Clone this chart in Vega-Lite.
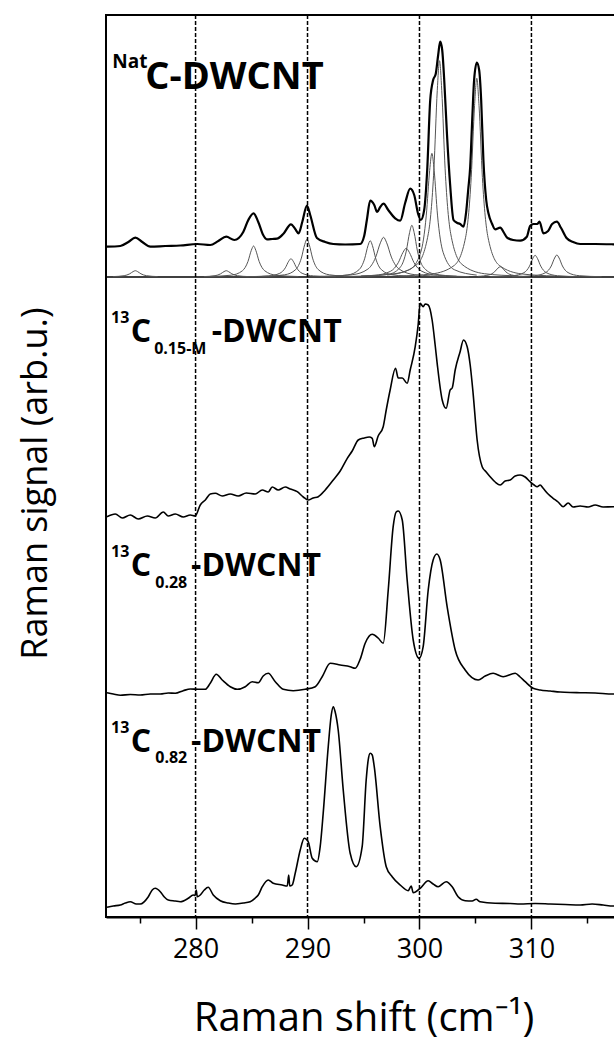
{
"$schema": "https://vega.github.io/schema/vega-lite/v6.json",
"width": 515,
"height": 902,
"autosize": {"type": "none"},
"padding": {"left": 106, "top": 15, "right": 0, "bottom": 124},
"config": {"view": {"stroke": "black", "strokeWidth": 2}, "font": "Open Sans"},
"datasets": {
"spectra": [
{"s":"nat","x":272.09,"y":67.03},{"s":"nat","x":273.28,"y":67.1},{"s":"nat","x":274.0,"y":67.5},{"s":"nat","x":274.62,"y":67.93},{"s":"nat","x":275.24,"y":67.5},{"s":"nat","x":275.96,"y":67.03},{"s":"nat","x":277.3,"y":67.1},{"s":"nat","x":278.63,"y":67.15},{"s":"nat","x":280.15,"y":67.3},{"s":"nat","x":281.31,"y":67.2},{"s":"nat","x":282.03,"y":67.6},{"s":"nat","x":282.74,"y":68.03},{"s":"nat","x":283.46,"y":67.7},{"s":"nat","x":284.26,"y":68.5},{"s":"nat","x":284.71,"y":69.7},{"s":"nat","x":285.18,"y":70.37},{"s":"nat","x":285.6,"y":69.5},{"s":"nat","x":286.04,"y":68.2},{"s":"nat","x":286.37,"y":67.77},{"s":"nat","x":286.85,"y":67.8},{"s":"nat","x":287.27,"y":67.83},{"s":"nat","x":287.83,"y":68.3},{"s":"nat","x":288.52,"y":69.27},{"s":"nat","x":288.9,"y":68.8},{"s":"nat","x":289.2,"y":68.37},{"s":"nat","x":289.53,"y":69.5},{"s":"nat","x":289.95,"y":71.13},{"s":"nat","x":290.24,"y":70.2},{"s":"nat","x":290.84,"y":67.9},{"s":"nat","x":291.58,"y":67.5},{"s":"nat","x":292.3,"y":67.3},{"s":"nat","x":293.37,"y":67.25},{"s":"nat","x":294.7,"y":67.3},{"s":"nat","x":295.06,"y":68.1},{"s":"nat","x":295.3,"y":69.7},{"s":"nat","x":295.6,"y":71.63},{"s":"nat","x":295.96,"y":71.2},{"s":"nat","x":296.22,"y":70.5},{"s":"nat","x":296.49,"y":71.0},{"s":"nat","x":296.79,"y":71.33},{"s":"nat","x":297.21,"y":70.7},{"s":"nat","x":297.83,"y":69.87},{"s":"nat","x":298.28,"y":69.63},{"s":"nat","x":298.72,"y":71.4},{"s":"nat","x":299.17,"y":72.83},{"s":"nat","x":299.53,"y":72.2},{"s":"nat","x":299.88,"y":70.3},{"s":"nat","x":300.12,"y":69.7},{"s":"nat","x":300.42,"y":70.7},{"s":"nat","x":300.69,"y":74.7},{"s":"nat","x":300.96,"y":81.7},{"s":"nat","x":301.22,"y":83.7},{"s":"nat","x":301.45,"y":84.3},{"s":"nat","x":301.67,"y":86.2},{"s":"nat","x":301.85,"y":87.53},{"s":"nat","x":302.03,"y":86.7},{"s":"nat","x":302.21,"y":83.7},{"s":"nat","x":302.45,"y":78.4},{"s":"nat","x":302.74,"y":73.2},{"s":"nat","x":303.04,"y":69.7},{"s":"nat","x":303.34,"y":69.43},{"s":"nat","x":303.63,"y":69.3},{"s":"nat","x":303.93,"y":69.03},{"s":"nat","x":304.17,"y":70.5},{"s":"nat","x":304.35,"y":72.7},{"s":"nat","x":304.53,"y":75.03},{"s":"nat","x":304.71,"y":79.7},{"s":"nat","x":304.88,"y":83.7},{"s":"nat","x":305.12,"y":85.43},{"s":"nat","x":305.33,"y":84.7},{"s":"nat","x":305.51,"y":81.7},{"s":"nat","x":305.71,"y":75.7},{"s":"nat","x":305.96,"y":71.7},{"s":"nat","x":306.16,"y":70.37},{"s":"nat","x":306.49,"y":69.3},{"s":"nat","x":306.76,"y":68.77},{"s":"nat","x":307.21,"y":68.93},{"s":"nat","x":307.56,"y":68.4},{"s":"nat","x":307.8,"y":67.97},{"s":"nat","x":308.37,"y":67.7},{"s":"nat","x":308.99,"y":67.63},{"s":"nat","x":309.59,"y":68.03},{"s":"nat","x":309.88,"y":69.1},{"s":"nat","x":310.18,"y":69.3},{"s":"nat","x":310.51,"y":69.3},{"s":"nat","x":310.72,"y":69.53},{"s":"nat","x":311.07,"y":68.37},{"s":"nat","x":311.49,"y":68.6},{"s":"nat","x":311.85,"y":69.3},{"s":"nat","x":312.27,"y":69.53},{"s":"nat","x":312.65,"y":68.9},{"s":"nat","x":313.16,"y":67.87},{"s":"nat","x":313.72,"y":67.5},{"s":"nat","x":314.35,"y":67.3},{"s":"nat","x":315.69,"y":67.3},{"s":"nat","x":317.32,"y":67.27},{"s":"nat","x":318.0,"y":67.25},
{"s":"m015","x":272.09,"y":40.03},{"s":"m015","x":272.83,"y":40.3},{"s":"m015","x":273.46,"y":39.9},{"s":"m015","x":274.17,"y":40.2},{"s":"m015","x":274.88,"y":39.8},{"s":"m015","x":275.69,"y":40.1},{"s":"m015","x":276.4,"y":39.9},{"s":"m015","x":277.12,"y":40.5},{"s":"m015","x":277.56,"y":40.1},{"s":"m015","x":278.19,"y":40.3},{"s":"m015","x":278.9,"y":40.0},{"s":"m015","x":279.53,"y":40.2},{"s":"m015","x":279.97,"y":40.1},{"s":"m015","x":280.42,"y":41.2},{"s":"m015","x":280.87,"y":41.7},{"s":"m015","x":281.31,"y":42.3},{"s":"m015","x":281.76,"y":42.37},{"s":"m015","x":282.38,"y":42.1},{"s":"m015","x":283.1,"y":42.3},{"s":"m015","x":283.81,"y":42.1},{"s":"m015","x":284.53,"y":42.4},{"s":"m015","x":285.33,"y":42.3},{"s":"m015","x":285.96,"y":42.7},{"s":"m015","x":286.49,"y":42.5},{"s":"m015","x":286.85,"y":43.0},{"s":"m015","x":287.38,"y":42.7},{"s":"m015","x":288.01,"y":43.0},{"s":"m015","x":288.46,"y":42.8},{"s":"m015","x":289.08,"y":42.53},{"s":"m015","x":289.62,"y":42.0},{"s":"m015","x":290.06,"y":41.7},{"s":"m015","x":290.51,"y":41.9},{"s":"m015","x":290.96,"y":42.03},{"s":"m015","x":291.58,"y":42.7},{"s":"m015","x":292.3,"y":43.7},{"s":"m015","x":292.92,"y":44.6},{"s":"m015","x":293.55,"y":45.87},{"s":"m015","x":293.99,"y":46.6},{"s":"m015","x":294.53,"y":47.7},{"s":"m015","x":295.06,"y":47.9},{"s":"m015","x":295.51,"y":48.0},{"s":"m015","x":295.78,"y":47.87},{"s":"m015","x":295.96,"y":47.03},{"s":"m015","x":296.31,"y":48.1},{"s":"m015","x":296.76,"y":49.03},{"s":"m015","x":297.03,"y":50.7},{"s":"m015","x":297.38,"y":52.7},{"s":"m015","x":297.86,"y":54.87},{"s":"m015","x":298.1,"y":53.9},{"s":"m015","x":298.46,"y":53.9},{"s":"m015","x":298.9,"y":53.37},{"s":"m015","x":299.17,"y":54.7},{"s":"m015","x":299.62,"y":57.03},{"s":"m015","x":299.88,"y":59.2},{"s":"m015","x":300.06,"y":61.37},{"s":"m015","x":300.33,"y":61.03},{"s":"m015","x":300.51,"y":61.3},{"s":"m015","x":300.78,"y":61.2},{"s":"m015","x":301.13,"y":59.7},{"s":"m015","x":301.4,"y":57.2},{"s":"m015","x":301.58,"y":55.37},{"s":"m015","x":302.03,"y":51.7},{"s":"m015","x":302.38,"y":50.87},{"s":"m015","x":302.74,"y":52.7},{"s":"m015","x":302.92,"y":52.9},{"s":"m015","x":303.19,"y":54.7},{"s":"m015","x":303.63,"y":56.53},{"s":"m015","x":303.93,"y":57.7},{"s":"m015","x":304.26,"y":57.03},{"s":"m015","x":304.53,"y":55.2},{"s":"m015","x":304.79,"y":52.37},{"s":"m015","x":305.15,"y":47.7},{"s":"m015","x":305.6,"y":45.03},{"s":"m015","x":305.96,"y":44.5},{"s":"m015","x":306.31,"y":44.03},{"s":"m015","x":306.76,"y":43.5},{"s":"m015","x":307.21,"y":43.2},{"s":"m015","x":307.65,"y":43.6},{"s":"m015","x":308.1,"y":43.7},{"s":"m015","x":308.55,"y":44.1},{"s":"m015","x":308.99,"y":44.2},{"s":"m015","x":309.44,"y":44.0},{"s":"m015","x":309.88,"y":43.53},{"s":"m015","x":310.24,"y":43.2},{"s":"m015","x":310.51,"y":43.03},{"s":"m015","x":310.78,"y":43.2},{"s":"m015","x":311.05,"y":42.87},{"s":"m015","x":311.49,"y":42.3},{"s":"m015","x":311.94,"y":41.87},{"s":"m015","x":312.38,"y":41.5},{"s":"m015","x":312.83,"y":41.03},{"s":"m015","x":313.28,"y":41.4},{"s":"m015","x":313.72,"y":41.0},{"s":"m015","x":314.35,"y":41.1},{"s":"m015","x":315.06,"y":41.0},{"s":"m015","x":315.69,"y":41.2},{"s":"m015","x":316.4,"y":41.0},{"s":"m015","x":317.29,"y":41.03},{"s":"m015","x":318.0,"y":41.0},
{"s":"c028","x":272.09,"y":22.43},{"s":"c028","x":272.65,"y":22.3},{"s":"c028","x":273.28,"y":22.17},{"s":"c028","x":274.17,"y":22.25},{"s":"c028","x":275.06,"y":22.2},{"s":"c028","x":275.96,"y":22.3},{"s":"c028","x":276.85,"y":22.3},{"s":"c028","x":277.56,"y":22.4},{"s":"c028","x":278.19,"y":22.37},{"s":"c028","x":278.9,"y":22.63},{"s":"c028","x":279.53,"y":22.8},{"s":"c028","x":280.24,"y":22.77},{"s":"c028","x":280.87,"y":22.77},{"s":"c028","x":281.31,"y":23.37},{"s":"c028","x":281.85,"y":24.27},{"s":"c028","x":282.38,"y":23.7},{"s":"c028","x":283.1,"y":23.03},{"s":"c028","x":283.72,"y":22.77},{"s":"c028","x":284.44,"y":23.03},{"s":"c028","x":285.06,"y":23.53},{"s":"c028","x":285.6,"y":23.43},{"s":"c028","x":286.04,"y":24.1},{"s":"c028","x":286.49,"y":24.37},{"s":"c028","x":287.12,"y":23.53},{"s":"c028","x":287.83,"y":22.77},{"s":"c028","x":288.72,"y":22.63},{"s":"c028","x":289.79,"y":22.77},{"s":"c028","x":290.69,"y":23.03},{"s":"c028","x":291.31,"y":24.03},{"s":"c028","x":292.03,"y":25.37},{"s":"c028","x":292.92,"y":25.2},{"s":"c028","x":293.81,"y":25.03},{"s":"c028","x":294.26,"y":24.87},{"s":"c028","x":294.7,"y":25.77},{"s":"c028","x":295.15,"y":27.37},{"s":"c028","x":295.78,"y":28.27},{"s":"c028","x":296.31,"y":27.9},{"s":"c028","x":296.76,"y":27.37},{"s":"c028","x":297.21,"y":32.7},{"s":"c028","x":297.65,"y":39.03},{"s":"c028","x":297.92,"y":40.5},{"s":"c028","x":298.1,"y":40.6},{"s":"c028","x":298.46,"y":39.7},{"s":"c028","x":298.9,"y":33.7},{"s":"c028","x":299.44,"y":27.7},{"s":"c028","x":299.97,"y":25.87},{"s":"c028","x":300.33,"y":27.03},{"s":"c028","x":300.78,"y":32.7},{"s":"c028","x":301.22,"y":35.7},{"s":"c028","x":301.55,"y":36.3},{"s":"c028","x":301.85,"y":35.7},{"s":"c028","x":302.47,"y":31.03},{"s":"c028","x":303.19,"y":26.7},{"s":"c028","x":304.08,"y":24.7},{"s":"c028","x":305.24,"y":23.7},{"s":"c028","x":305.87,"y":24.1},{"s":"c028","x":306.58,"y":24.37},{"s":"c028","x":307.47,"y":24.03},{"s":"c028","x":308.55,"y":24.37},{"s":"c028","x":308.99,"y":24.0},{"s":"c028","x":309.44,"y":23.53},{"s":"c028","x":310.15,"y":22.87},{"s":"c028","x":310.78,"y":22.7},{"s":"c028","x":311.67,"y":22.6},{"s":"c028","x":312.56,"y":22.5},{"s":"c028","x":313.46,"y":22.45},{"s":"c028","x":314.35,"y":22.43},{"s":"c028","x":315.69,"y":22.4},{"s":"c028","x":317.29,"y":22.3},{"s":"c028","x":318.0,"y":22.3},
{"s":"c082","x":272.09,"y":0.97},{"s":"c082","x":272.65,"y":1.1},{"s":"c082","x":273.28,"y":1.2},{"s":"c082","x":273.72,"y":1.4},{"s":"c082","x":274.17,"y":1.53},{"s":"c082","x":274.71,"y":1.3},{"s":"c082","x":275.06,"y":1.3},{"s":"c082","x":275.78,"y":2.03},{"s":"c082","x":276.13,"y":2.7},{"s":"c082","x":276.4,"y":2.87},{"s":"c082","x":276.85,"y":2.53},{"s":"c082","x":277.21,"y":2.0},{"s":"c082","x":277.56,"y":1.7},{"s":"c082","x":278.19,"y":1.6},{"s":"c082","x":278.63,"y":1.53},{"s":"c082","x":279.35,"y":1.87},{"s":"c082","x":279.79,"y":2.2},{"s":"c082","x":279.97,"y":2.15},{"s":"c082","x":280.06,"y":2.7},{"s":"c082","x":280.15,"y":2.03},{"s":"c082","x":280.42,"y":2.2},{"s":"c082","x":280.78,"y":2.7},{"s":"c082","x":281.13,"y":2.97},{"s":"c082","x":281.58,"y":2.2},{"s":"c082","x":282.21,"y":1.63},{"s":"c082","x":282.92,"y":1.4},{"s":"c082","x":283.55,"y":1.3},{"s":"c082","x":284.26,"y":1.4},{"s":"c082","x":284.88,"y":1.53},{"s":"c082","x":285.33,"y":1.9},{"s":"c082","x":285.6,"y":2.2},{"s":"c082","x":285.96,"y":3.03},{"s":"c082","x":286.49,"y":3.7},{"s":"c082","x":286.94,"y":3.37},{"s":"c082","x":287.74,"y":3.2},{"s":"c082","x":288.19,"y":3.1},{"s":"c082","x":288.32,"y":4.2},{"s":"c082","x":288.41,"y":3.1},{"s":"c082","x":288.63,"y":3.2},{"s":"c082","x":288.9,"y":4.37},{"s":"c082","x":289.35,"y":6.7},{"s":"c082","x":289.71,"y":7.87},{"s":"c082","x":290.06,"y":7.53},{"s":"c082","x":290.42,"y":5.87},{"s":"c082","x":290.87,"y":5.53},{"s":"c082","x":291.13,"y":7.03},{"s":"c082","x":291.4,"y":10.37},{"s":"c082","x":291.85,"y":17.03},{"s":"c082","x":292.12,"y":20.2},{"s":"c082","x":292.3,"y":21.03},{"s":"c082","x":292.47,"y":20.5},{"s":"c082","x":292.74,"y":18.7},{"s":"c082","x":293.19,"y":12.7},{"s":"c082","x":293.81,"y":6.37},{"s":"c082","x":294.35,"y":5.03},{"s":"c082","x":294.88,"y":7.03},{"s":"c082","x":295.24,"y":13.7},{"s":"c082","x":295.42,"y":15.7},{"s":"c082","x":295.6,"y":16.37},{"s":"c082","x":295.78,"y":16.2},{"s":"c082","x":295.96,"y":15.03},{"s":"c082","x":296.49,"y":9.03},{"s":"c082","x":297.03,"y":5.03},{"s":"c082","x":297.56,"y":4.03},{"s":"c082","x":298.28,"y":3.2},{"s":"c082","x":298.99,"y":2.63},{"s":"c082","x":299.26,"y":3.1},{"s":"c082","x":299.44,"y":2.43},{"s":"c082","x":300.06,"y":2.87},{"s":"c082","x":300.78,"y":3.63},{"s":"c082","x":301.22,"y":3.3},{"s":"c082","x":301.67,"y":3.03},{"s":"c082","x":302.38,"y":3.53},{"s":"c082","x":302.92,"y":3.03},{"s":"c082","x":303.45,"y":2.03},{"s":"c082","x":304.08,"y":1.63},{"s":"c082","x":304.71,"y":1.6},{"s":"c082","x":305.06,"y":1.77},{"s":"c082","x":305.42,"y":1.53},{"s":"c082","x":306.76,"y":1.37},{"s":"c082","x":308.1,"y":1.35},{"s":"c082","x":308.99,"y":1.3},{"s":"c082","x":310.33,"y":1.35},{"s":"c082","x":311.67,"y":1.3},{"s":"c082","x":313.01,"y":1.25},{"s":"c082","x":314.35,"y":1.2},{"s":"c082","x":315.42,"y":1.3},{"s":"c082","x":316.4,"y":1.2},{"s":"c082","x":317.29,"y":1.1},{"s":"c082","x":318.0,"y":1.1}
],
"components": [
{"s":"c1","x":272.62,"y":64.04},{"s":"c1","x":273.62,"y":64.13},{"s":"c1","x":274.12,"y":64.32},{"s":"c1","x":274.42,"y":64.54},{"s":"c1","x":274.62,"y":64.63},{"s":"c1","x":274.82,"y":64.54},{"s":"c1","x":275.12,"y":64.32},{"s":"c1","x":275.62,"y":64.13},{"s":"c1","x":276.62,"y":64.04},
{"s":"c2","x":280.74,"y":64.04},{"s":"c2","x":281.74,"y":64.13},{"s":"c2","x":282.24,"y":64.32},{"s":"c2","x":282.54,"y":64.54},{"s":"c2","x":282.74,"y":64.63},{"s":"c2","x":282.94,"y":64.54},{"s":"c2","x":283.24,"y":64.32},{"s":"c2","x":283.74,"y":64.13},{"s":"c2","x":284.74,"y":64.04},
{"s":"c3","x":281.18,"y":64.05},{"s":"c3","x":283.18,"y":64.18},{"s":"c3","x":284.18,"y":64.62},{"s":"c3","x":284.68,"y":65.55},{"s":"c3","x":284.98,"y":66.67},{"s":"c3","x":285.18,"y":67.1},{"s":"c3","x":285.38,"y":66.67},{"s":"c3","x":285.68,"y":65.55},{"s":"c3","x":286.18,"y":64.62},{"s":"c3","x":287.18,"y":64.18},{"s":"c3","x":289.18,"y":64.05},
{"s":"c4","x":284.52,"y":64.03},{"s":"c4","x":286.52,"y":64.11},{"s":"c4","x":287.52,"y":64.37},{"s":"c4","x":288.02,"y":64.92},{"s":"c4","x":288.32,"y":65.58},{"s":"c4","x":288.52,"y":65.83},{"s":"c4","x":288.72,"y":65.58},{"s":"c4","x":289.02,"y":64.92},{"s":"c4","x":289.52,"y":64.37},{"s":"c4","x":290.52,"y":64.11},{"s":"c4","x":292.52,"y":64.03},
{"s":"c5","x":285.95,"y":64.06},{"s":"c5","x":287.95,"y":64.22},{"s":"c5","x":288.95,"y":64.75},{"s":"c5","x":289.45,"y":65.89},{"s":"c5","x":289.75,"y":67.25},{"s":"c5","x":289.95,"y":67.77},{"s":"c5","x":290.15,"y":67.25},{"s":"c5","x":290.45,"y":65.89},{"s":"c5","x":290.95,"y":64.75},{"s":"c5","x":291.95,"y":64.22},{"s":"c5","x":293.95,"y":64.06},
{"s":"c6","x":291.6,"y":64.06},{"s":"c6","x":293.6,"y":64.21},{"s":"c6","x":294.6,"y":64.73},{"s":"c6","x":295.1,"y":65.82},{"s":"c6","x":295.4,"y":67.13},{"s":"c6","x":295.6,"y":67.63},{"s":"c6","x":295.8,"y":67.13},{"s":"c6","x":296.1,"y":65.82},{"s":"c6","x":296.6,"y":64.73},{"s":"c6","x":297.6,"y":64.21},{"s":"c6","x":299.6,"y":64.06},
{"s":"c7","x":291.19,"y":64.06},{"s":"c7","x":293.99,"y":64.23},{"s":"c7","x":295.39,"y":64.79},{"s":"c7","x":296.09,"y":65.99},{"s":"c7","x":296.51,"y":67.42},{"s":"c7","x":296.79,"y":67.97},{"s":"c7","x":297.07,"y":67.42},{"s":"c7","x":297.49,"y":65.99},{"s":"c7","x":298.19,"y":64.79},{"s":"c7","x":299.59,"y":64.23},{"s":"c7","x":302.39,"y":64.06},
{"s":"c8","x":293.21,"y":64.04},{"s":"c8","x":296.01,"y":64.17},{"s":"c8","x":297.41,"y":64.57},{"s":"c8","x":298.11,"y":65.44},{"s":"c8","x":298.53,"y":66.47},{"s":"c8","x":298.81,"y":66.87},{"s":"c8","x":299.09,"y":66.47},{"s":"c8","x":299.51,"y":65.44},{"s":"c8","x":300.21,"y":64.57},{"s":"c8","x":301.61,"y":64.17},{"s":"c8","x":304.41,"y":64.04},
{"s":"c9","x":295.32,"y":64.08},{"s":"c9","x":297.32,"y":64.3},{"s":"c9","x":298.32,"y":65.03},{"s":"c9","x":298.82,"y":66.59},{"s":"c9","x":299.12,"y":68.46},{"s":"c9","x":299.32,"y":69.17},{"s":"c9","x":299.52,"y":68.46},{"s":"c9","x":299.82,"y":66.59},{"s":"c9","x":300.32,"y":65.03},{"s":"c9","x":301.32,"y":64.3},{"s":"c9","x":303.32,"y":64.08},
{"s":"c10","x":297.11,"y":64.19},{"s":"c10","x":299.11,"y":64.73},{"s":"c10","x":300.11,"y":66.47},{"s":"c10","x":300.61,"y":70.19},{"s":"c10","x":300.91,"y":74.66},{"s":"c10","x":301.11,"y":76.37},{"s":"c10","x":301.31,"y":74.66},{"s":"c10","x":301.61,"y":70.19},{"s":"c10","x":302.11,"y":66.47},{"s":"c10","x":303.11,"y":64.73},{"s":"c10","x":305.11,"y":64.19},
{"s":"c11","x":294.79,"y":64.11},{"s":"c11","x":297.79,"y":64.33},{"s":"c11","x":299.79,"y":65.27},{"s":"c11","x":300.79,"y":68.33},{"s":"c11","x":301.29,"y":74.82},{"s":"c11","x":301.59,"y":82.65},{"s":"c11","x":301.79,"y":85.63},{"s":"c11","x":301.99,"y":82.65},{"s":"c11","x":302.29,"y":74.82},{"s":"c11","x":302.79,"y":68.33},{"s":"c11","x":303.79,"y":65.27},{"s":"c11","x":305.79,"y":64.33},{"s":"c11","x":308.79,"y":64.11},
{"s":"c12","x":298.12,"y":64.1},{"s":"c12","x":301.12,"y":64.31},{"s":"c12","x":303.12,"y":65.17},{"s":"c12","x":304.12,"y":67.97},{"s":"c12","x":304.62,"y":73.94},{"s":"c12","x":304.92,"y":81.13},{"s":"c12","x":305.12,"y":83.87},{"s":"c12","x":305.32,"y":81.13},{"s":"c12","x":305.62,"y":73.94},{"s":"c12","x":306.12,"y":67.97},{"s":"c12","x":307.12,"y":65.17},{"s":"c12","x":309.12,"y":64.31},{"s":"c12","x":312.12,"y":64.1},
{"s":"c13","x":305.21,"y":64.06},{"s":"c13","x":306.21,"y":64.21},{"s":"c13","x":306.71,"y":64.52},{"s":"c13","x":307.01,"y":64.89},{"s":"c13","x":307.21,"y":65.03},{"s":"c13","x":307.41,"y":64.89},{"s":"c13","x":307.71,"y":64.52},{"s":"c13","x":308.21,"y":64.21},{"s":"c13","x":309.21,"y":64.06},
{"s":"c14","x":306.33,"y":64.03},{"s":"c14","x":308.33,"y":64.13},{"s":"c14","x":309.33,"y":64.43},{"s":"c14","x":309.83,"y":65.09},{"s":"c14","x":310.13,"y":65.87},{"s":"c14","x":310.33,"y":66.17},{"s":"c14","x":310.53,"y":65.87},{"s":"c14","x":310.83,"y":65.09},{"s":"c14","x":311.33,"y":64.43},{"s":"c14","x":312.33,"y":64.13},{"s":"c14","x":314.33,"y":64.03},
{"s":"c15","x":308.27,"y":64.03},{"s":"c15","x":310.27,"y":64.13},{"s":"c15","x":311.27,"y":64.44},{"s":"c15","x":311.77,"y":65.1},{"s":"c15","x":312.07,"y":65.9},{"s":"c15","x":312.27,"y":66.2},{"s":"c15","x":312.47,"y":65.9},{"s":"c15","x":312.77,"y":65.1},{"s":"c15","x":313.27,"y":64.44},{"s":"c15","x":314.27,"y":64.13},{"s":"c15","x":316.27,"y":64.03}
],
"labels": [
{"role":"nat","t":"Nat","x":272.56,"y":84.9},
{"role":"big","t":"C-DWCNT","x":275.51,"y":82.8},
{"role":"sup","t":"13","x":272.45,"y":59.37},
{"role":"main","t":"C","x":274.2,"y":57.5},
{"role":"sub","t":"0.15-M","x":276.3,"y":56.3},
{"role":"main","t":"-DWCNT","x":281.45,"y":57.5},
{"role":"sup","t":"13","x":272.45,"y":36.03},
{"role":"main","t":"C","x":274.2,"y":34.1},
{"role":"sub","t":"0.28","x":276.4,"y":32.87},
{"role":"main","t":"-DWCNT","x":279.6,"y":34.1},
{"role":"sup","t":"13","x":272.45,"y":18.37},
{"role":"main","t":"C","x":274.2,"y":16.53},
{"role":"sub","t":"0.82","x":276.4,"y":15.37},
{"role":"main","t":"-DWCNT","x":279.6,"y":16.53}
]
},
"layer": [
{
"data": {"values": [{"y": 64}]},
"mark": {"type": "rule", "color": "black", "strokeWidth": 1.6},
"encoding": {
"y": {"field": "y", "type": "quantitative", "scale": {"domain": [0, 90.2], "nice": false, "zero": false},
"axis": {"orient": "left", "title": "Raman signal (arb.u.)", "labels": false, "ticks": false, "domain": false, "grid": false, "titleFont": "Open Sans", "titleFontSize": 36, "titleFontWeight": "normal", "titleColor": "black", "titleX": -60, "titleY": 468, "titleAngle": 270, "titleBaseline": "alphabetic"}}
}
},
{
"data": {"name": "components"},
"mark": {"type": "line", "color": "#555555", "strokeWidth": 1, "interpolate": "monotone"},
"encoding": {
"x": {"field": "x", "type": "quantitative", "scale": {"domain": [272, 318], "nice": false, "zero": false},
"axis": {"orient": "bottom", "values": [275, 285, 295, 305, 315], "tickSize": 6, "tickWidth": 1.5, "tickColor": "black", "labels": false, "domain": false, "grid": false, "title": null}},
"y": {"field": "y", "type": "quantitative", "scale": {"domain": [0, 90.2], "nice": false, "zero": false}},
"detail": {"field": "s"}
}
},
{
"data": {"name": "spectra"},
"transform": [{"filter": "datum.s === 'nat'"}],
"mark": {"type": "line", "color": "black", "strokeWidth": 2.2, "interpolate": "monotone"},
"encoding": {
"x": {"field": "x", "type": "quantitative", "scale": {"domain": [272, 318], "nice": false, "zero": false}, "axis": null},
"y": {"field": "y", "type": "quantitative", "scale": {"domain": [0, 90.2], "nice": false, "zero": false}},
"detail": {"field": "s"}
}
},
{
"data": {"name": "spectra"},
"transform": [{"filter": "datum.s !== 'nat'"}],
"mark": {"type": "line", "color": "black", "strokeWidth": 1.6, "interpolate": "monotone"},
"encoding": {
"x": {"field": "x", "type": "quantitative", "scale": {"domain": [272, 318], "nice": false, "zero": false}, "axis": null},
"y": {"field": "y", "type": "quantitative", "scale": {"domain": [0, 90.2], "nice": false, "zero": false}},
"detail": {"field": "s"}
}
},
{
"data": {"name": "labels"},
"transform": [{"filter": "datum.role === 'big'"}],
"mark": {"type": "text", "font": "Open Sans", "fontWeight": "bold", "fontSize": 38, "align": "left", "baseline": "alphabetic", "color": "black"},
"encoding": {
"x": {"field": "x", "type": "quantitative", "scale": {"domain": [272, 318], "nice": false, "zero": false}, "axis": null},
"y": {"field": "y", "type": "quantitative", "scale": {"domain": [0, 90.2], "nice": false, "zero": false}},
"text": {"field": "t"}
}
},
{
"data": {"name": "labels"},
"transform": [{"filter": "datum.role === 'main'"}],
"mark": {"type": "text", "font": "Open Sans", "fontWeight": "bold", "fontSize": 32, "align": "left", "baseline": "alphabetic", "color": "black"},
"encoding": {
"x": {"field": "x", "type": "quantitative", "scale": {"domain": [272, 318], "nice": false, "zero": false}, "axis": null},
"y": {"field": "y", "type": "quantitative", "scale": {"domain": [0, 90.2], "nice": false, "zero": false}},
"text": {"field": "t"}
}
},
{
"data": {"name": "labels"},
"transform": [{"filter": "datum.role === 'nat'"}],
"mark": {"type": "text", "font": "Open Sans", "fontWeight": "bold", "fontSize": 19, "align": "left", "baseline": "alphabetic", "color": "black"},
"encoding": {
"x": {"field": "x", "type": "quantitative", "scale": {"domain": [272, 318], "nice": false, "zero": false}, "axis": null},
"y": {"field": "y", "type": "quantitative", "scale": {"domain": [0, 90.2], "nice": false, "zero": false}},
"text": {"field": "t"}
}
},
{
"data": {"name": "labels"},
"transform": [{"filter": "datum.role === 'sup' || datum.role === 'sub'"}],
"mark": {"type": "text", "font": "Open Sans", "fontWeight": "bold", "fontSize": 16, "align": "left", "baseline": "alphabetic", "color": "black"},
"encoding": {
"x": {"field": "x", "type": "quantitative", "scale": {"domain": [272, 318], "nice": false, "zero": false}, "axis": null},
"y": {"field": "y", "type": "quantitative", "scale": {"domain": [0, 90.2], "nice": false, "zero": false}},
"text": {"field": "t"}
}
},
{
"data": {"values": [{"v": 280}, {"v": 290}, {"v": 300}, {"v": 310}]},
"mark": {"type": "rule", "color": "black", "strokeWidth": 1.5, "strokeDash": [4, 2]},
"encoding": {
"x": {"field": "v", "type": "quantitative", "scale": {"domain": [272, 318], "nice": false, "zero": false},
"axis": {"orient": "bottom", "values": [280, 290, 300, 310], "format": "d", "tickSize": 12, "tickWidth": 1.5, "tickColor": "black", "domain": true, "domainWidth": 2, "domainColor": "black", "grid": false, "labelFont": "Open Sans", "labelFontSize": 27, "labelColor": "black", "labelPadding": 7, "title": "Raman shift (cm⁻¹)", "titleFont": "Open Sans", "titleFontSize": 40, "titleFontWeight": "normal", "titleColor": "black", "titleY": 113, "titleBaseline": "alphabetic"}}
}
}
],
"resolve": {"axis": {"x": "independent"}}
}
